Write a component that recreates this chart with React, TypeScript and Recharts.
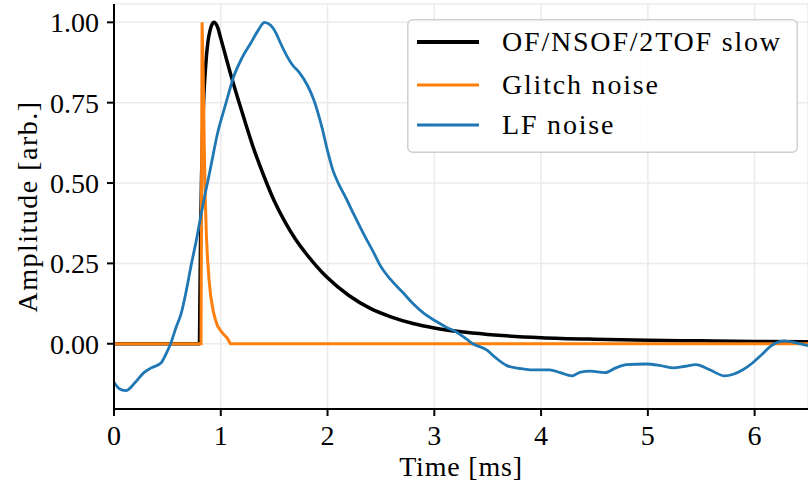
import React from 'react';
import { LineChart, Line, XAxis, YAxis, CartesianGrid, Legend } from 'recharts';

const FONT = '"Liberation Serif", "DejaVu Serif", serif';

// OF/NSOF/2TOF slow pulse template
const pulseT = [0, 0.8, 0.805, 0.81, 0.82, 0.83, 0.84, 0.86, 0.88, 0.9, 0.935, 0.97, 1.0, 1.1, 1.2, 1.3, 1.4, 1.5, 1.6, 1.7, 1.8, 1.9, 2.0, 2.2, 2.4, 2.6, 2.8, 3.0, 3.25, 3.5, 4.0, 4.5, 5.0, 5.5, 6.0, 6.5];
const pulseV = [0, 0, 0.15, 0.3, 0.52, 0.66, 0.76, 0.87, 0.94, 0.975, 1.0, 0.985, 0.95, 0.83, 0.72, 0.615, 0.525, 0.445, 0.38, 0.325, 0.28, 0.24, 0.205, 0.15, 0.11, 0.083, 0.063, 0.049, 0.037, 0.029, 0.019, 0.014, 0.011, 0.009, 0.007, 0.006];

// Glitch noise
const glitchT = [0, 0.815, 0.825, 0.835, 0.845, 0.855, 0.865, 0.875, 0.89, 0.905, 0.93, 0.95, 0.97, 1.0, 1.03, 1.06, 1.09, 6.5];
const glitchV = [0, 0, 1.0, 0.85, 0.62, 0.45, 0.34, 0.27, 0.2, 0.15, 0.1, 0.075, 0.055, 0.04, 0.028, 0.018, 0, 0];

// LF noise
const lfT = [0, 0.05, 0.11, 0.2, 0.28, 0.35, 0.44, 0.49, 0.53, 0.58, 0.63, 0.68, 0.72, 0.77, 0.82, 0.9, 0.97, 1.05, 1.12, 1.2, 1.28, 1.35, 1.41, 1.47, 1.52, 1.56, 1.62, 1.67, 1.74, 1.81, 1.87, 1.95, 2.0, 2.05, 2.1, 2.17, 2.25, 2.35, 2.43, 2.5, 2.59, 2.71, 2.8, 2.9, 3.02, 3.12, 3.21, 3.3, 3.36, 3.49, 3.58, 3.68, 3.8, 3.9, 4.08, 4.18, 4.29, 4.37, 4.46, 4.6, 4.7, 4.8, 4.99, 5.12, 5.24, 5.35, 5.45, 5.58, 5.72, 5.8, 5.89, 5.98, 6.05, 6.17, 6.28, 6.4, 6.5];
const lfV = [-0.12, -0.14, -0.146, -0.12, -0.09, -0.075, -0.06, -0.03, 0.0, 0.05, 0.095, 0.17, 0.24, 0.32, 0.41, 0.54, 0.655, 0.75, 0.83, 0.89, 0.935, 0.975, 1.0, 0.99, 0.965, 0.935, 0.895, 0.868, 0.842, 0.805, 0.76, 0.67, 0.6, 0.54, 0.5, 0.455, 0.4, 0.334, 0.285, 0.24, 0.2, 0.158, 0.125, 0.095, 0.069, 0.05, 0.036, 0.015, 0.0, -0.019, -0.045, -0.068, -0.077, -0.081, -0.081, -0.09, -0.1, -0.088, -0.085, -0.09, -0.075, -0.065, -0.063, -0.068, -0.075, -0.07, -0.065, -0.081, -0.1, -0.095, -0.081, -0.06, -0.039, -0.003, 0.009, 0.002, -0.006];

const seriesNames = ['OF/NSOF/2TOF slow', 'Glitch noise', 'LF noise'];
const seriesColors = ['#000000', '#ff7f0e', '#1f77b4'];
const seriesWidths = [3.5, 3, 2.8];

const xTicks = [0, 1, 2, 3, 4, 5, 6];
const yTicks = [0, 0.25, 0.5, 0.75, 1.0];
const xLabel = 'Time [ms]';
const yLabel = 'Amplitude [arb.]';

const toRows = (ts: number[], vs: number[]) => ts.map((t, i) => ({ t, v: vs[i] }));
const pulseData = toRows(pulseT, pulseV);
const glitchData = toRows(glitchT, glitchV);
const lfData = toRows(lfT, lfV);

const legendRowY = [23, 66, 106];

const renderLegend = () => (
  <svg width={391} height={134} style={{ display: 'block' }}>
    <rect x={0.75} y={0.75} width={389.5} height={132.5} rx={5} ry={5} fill="rgba(255,255,255,0.85)" stroke="#d0d0d0" strokeWidth={1.5} />
    {seriesNames.map((name, i) => (
      <g key={name}>
        <line x1={10} x2={72} y1={legendRowY[i]} y2={legendRowY[i]} stroke={seriesColors[i]} strokeWidth={i === 0 ? 4 : 3} />
        <text x={95} y={legendRowY[i] + 9.3} fontFamily={FONT} fontSize={28} letterSpacing={1.8} fill="#000">{name}</text>
      </g>
    ))}
  </svg>
);

const YLabelContent = (props: any) => {
  const vb = props.viewBox || {};
  const cx = (vb.x ?? 14) + 14;
  const cy = (vb.y ?? 4) + (vb.height ?? 405) / 2;
  return (
    <text
      x={cx}
      y={cy}
      dy={9.3}
      transform={`rotate(-90, ${cx}, ${cy})`}
      textAnchor="middle"
      fontFamily={FONT}
      fontSize={28}
      letterSpacing={1.5}
      fill="#000"
    >
      {yLabel}
    </text>
  );
};

export default function App() {
  const tickStyle = { fill: '#000', fontSize: 28, fontFamily: FONT };
  return (
    <div style={{ position: 'absolute', left: 0, top: 0, background: '#fff' }}>
      <LineChart width={808} height={491} margin={{ top: 4, right: 0, bottom: 0, left: 14 }}>
        <CartesianGrid stroke="#ebebeb" strokeWidth={1.5} />
        <XAxis
          dataKey="t"
          type="number"
          domain={[0, 6.5]}
          ticks={xTicks}
          allowDataOverflow
          height={82}
          tickSize={7}
          tickMargin={9}
          tick={tickStyle}
          tickLine={{ stroke: '#000', strokeWidth: 2 }}
          axisLine={{ stroke: '#000', strokeWidth: 2 }}
          label={{ value: xLabel, position: 'insideBottom', offset: 15, fill: '#000', fontSize: 28, fontFamily: FONT, style: { fontFamily: FONT, letterSpacing: '0.8px' } }}
        />
        <XAxis
          xAxisId="top"
          orientation="top"
          dataKey="t"
          type="number"
          domain={[0, 6.5]}
          ticks={xTicks}
          height={0}
          tick={false}
          tickLine={false}
          axisLine={{ stroke: '#000', strokeWidth: 2 }}
        />
        <YAxis
          type="number"
          domain={[-0.203, 1.057]}
          ticks={yTicks}
          allowDataOverflow
          width={100}
          tickSize={7}
          tickMargin={8}
          tick={tickStyle}
          tickFormatter={(v: number) => v.toFixed(2)}
          tickLine={{ stroke: '#000', strokeWidth: 2 }}
          axisLine={{ stroke: '#000', strokeWidth: 2 }}
          label={{ value: yLabel, position: 'insideLeft', content: YLabelContent }}
        />
        <Line data={pulseData} dataKey="v" name={seriesNames[0]} type="monotone" stroke={seriesColors[0]} strokeWidth={seriesWidths[0]} dot={false} isAnimationActive={false} />
        <Line data={glitchData} dataKey="v" name={seriesNames[1]} type="linear" stroke={seriesColors[1]} strokeWidth={seriesWidths[1]} dot={false} isAnimationActive={false} />
        <Line data={lfData} dataKey="v" name={seriesNames[2]} type="monotone" stroke={seriesColors[2]} strokeWidth={seriesWidths[2]} dot={false} isAnimationActive={false} />
        <Legend
          layout="horizontal"
          verticalAlign="middle"
          align="center"
          content={renderLegend}
          wrapperStyle={{ position: 'absolute', left: 407, top: 19, width: 391, height: 134, margin: 0, padding: 0 }}
        />
      </LineChart>
    </div>
  );
}
